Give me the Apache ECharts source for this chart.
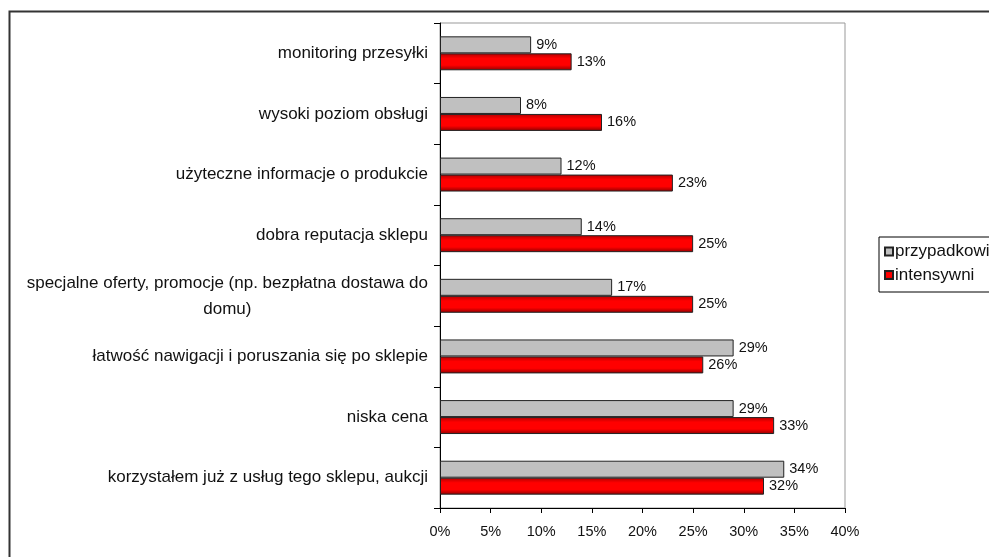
<!DOCTYPE html>
<html><head><meta charset="utf-8">
<script src="https://cdn.jsdelivr.net/npm/echarts@6/dist/echarts.min.js"></script>
<style>html,body{margin:0;padding:0;background:#fff}#c{width:989px;height:557px}</style>
</head><body><div id="c"></div>
<script>
const categories = [
  'monitoring przesyłki',
  'wysoki poziom obsługi',
  'użyteczne informacje o produkcie',
  'dobra reputacja sklepu',
  'specjalne oferty, promocje (np. bezpłatna dostawa do\ndomu)',
  'łatwość nawigacji i poruszania się po sklepie',
  'niska cena',
  'korzystałem już z usług tego sklepu, aukcji'
];
const seriesNames = ['przypadkowi', 'intensywni'];
const przypadkowi = [9, 8, 12, 14, 17, 29, 29, 34];
const intensywni = [13, 16, 23, 25, 25, 26, 33, 32];
const xTicks = [0, 5, 10, 15, 20, 25, 30, 35, 40];

const FONT = '"Liberation Sans", Arial, sans-serif';
const chart = echarts.init(document.getElementById('c'), null, {renderer: 'canvas'});
const redGrad = new echarts.graphic.LinearGradient(0, 0, 0, 1, [
  {offset: 0, color: '#b00000'},
  {offset: 0.3, color: '#ff0000'},
  {offset: 0.7, color: '#ff0000'},
  {offset: 1, color: '#900000'}
]);
const labelStyle = {show: true, position: 'right', distance: 5, formatter: '{c}%', color: '#111', fontFamily: FONT, fontSize: 14.5};
chart.setOption({
  animation: false,
  backgroundColor: '#fff',
  graphic: [{
    type: 'rect', left: 7, top: 9, z: 100,
    shape: {width: 1200, height: 800},
    style: {fill: 'none', stroke: '#333', lineWidth: 2}
  }],
  grid: {left: 440, top: 23, width: 405, height: 485, show: true, borderColor: '#999', borderWidth: 1, containLabel: false},
  legend: {
    orient: 'vertical', left: 879, top: 237,
    data: seriesNames,
    itemWidth: 8, itemHeight: 8, itemGap: 5.5,
    icon: 'rect',
    borderColor: '#000', borderWidth: 1,
    padding: [5.5, 80, 8, 5],
    textStyle: {fontFamily: FONT, fontSize: 17, color: '#111', lineHeight: 18, padding: [0, 0, 0, -3]}
  },
  xAxis: {
    type: 'value', min: 0, max: 40, interval: 5,
    axisLine: {show: true, lineStyle: {color: '#000', width: 1}},
    axisTick: {show: true, length: 5, lineStyle: {color: '#000'}},
    splitLine: {show: false},
    axisLabel: {formatter: v => xTicks.includes(v) ? v + '%' : '', color: '#111', fontFamily: FONT, fontSize: 14.5, margin: 16}
  },
  yAxis: {
    type: 'category', data: categories, inverse: true,
    axisLine: {show: true, lineStyle: {color: '#000', width: 1}},
    axisTick: {show: true, length: 6, lineStyle: {color: '#000'}},
    axisLabel: {
      color: '#111', fontFamily: FONT, fontSize: 17, margin: 12,
      formatter: v => v.split('\n').map(l => '{c|' + l + '}').join('\n'),
      rich: {c: {align: 'center', lineHeight: 26, fontFamily: FONT, fontSize: 17, color: '#111'}}
    }
  },
  series: [
    {
      name: seriesNames[0], type: 'bar', data: przypadkowi,
      barGap: '0%', barCategoryGap: '44%',
      itemStyle: {color: '#c0c0c0', borderColor: '#222', borderWidth: 1},
      label: labelStyle
    },
    {
      name: seriesNames[1], type: 'bar', data: intensywni,
      barGap: '0%', barCategoryGap: '44%',
      itemStyle: {color: redGrad, borderColor: '#222', borderWidth: 1},
      label: labelStyle
    }
  ]
});
</script></body></html>
